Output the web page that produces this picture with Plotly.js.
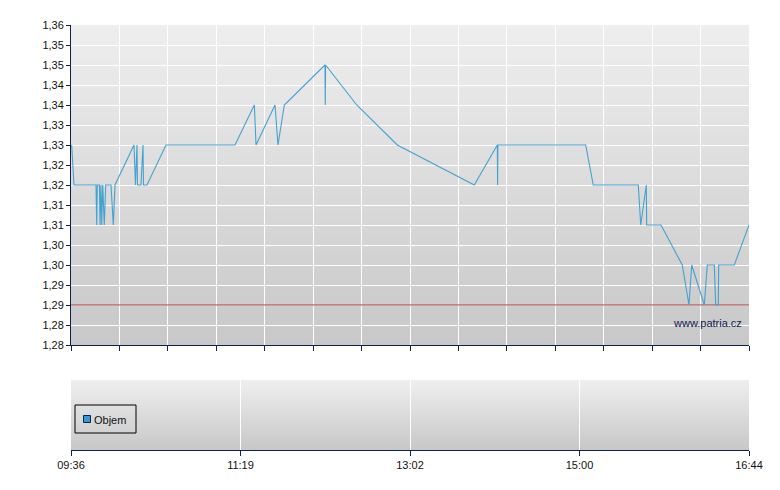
<!DOCTYPE html>
<html>
<head>
<meta charset="utf-8">
<script src="https://cdn.plot.ly/plotly-3.0.1.min.js"></script>
<style>html,body{margin:0;padding:0;background:#fff}#chart{width:780px;height:490px}</style>
</head>
<body>
<div id="chart"></div>
<script>
// session position (0 = open, 100 = close) and price
const pos = [0.1,0.44,3.69,3.79,3.88,4.2,4.28,4.42,4.53,4.68,4.91,5.12,5.90,6.24,6.49,
  9.29,9.51,9.73,9.81,10.32,10.62,10.69,11.21,14.01,24.19,27.04,27.29,30.09,30.53,31.46,
  37.46,37.5,37.55,42.14,48.13,59.48,62.88,62.92,62.96,75.91,77.03,83.67,84.03,84.85,84.91,
  87.02,90.16,91.15,91.55,93.41,93.85,94.88,95.09,95.47,95.53,97.83,100];
const price = [1.33,1.32,1.32,1.31,1.32,1.32,1.31,1.32,1.31,1.32,1.31,1.32,1.32,1.31,1.32,
  1.33,1.32,1.33,1.32,1.32,1.33,1.32,1.32,1.33,1.33,1.34,1.33,1.34,1.33,1.34,
  1.35,1.34,1.35,1.34,1.33,1.32,1.33,1.32,1.33,1.33,1.32,1.32,1.31,1.32,1.31,
  1.31,1.30,1.29,1.30,1.29,1.30,1.30,1.29,1.29,1.30,1.30,1.31];
const prevClose = 1.29;
const volumePos = [50];
const volume = [0];
const volumeName = 'Objem';
const timeTickPos = [0,25,50,75,100];
const timeTickLabels = ['09:36','11:19','13:02','15:00','16:44'];
const priceTickVals = [1.28,1.285,1.29,1.295,1.30,1.305,1.31,1.315,1.32,1.325,1.33,1.335,1.34,1.345,1.35,1.355,1.36];
const priceTickText = ['1,28','1,28','1,29','1,29','1,30','1,30','1,31','1,31','1,32','1,32','1,33','1,33','1,34','1,34','1,35','1,35','1,36'];

const navy = '#0b2152';
const volColor = '#3a9ad0';
const upperGrid = [];
for (let i = 0; i <= 14; i++) upperGrid.push(i * 100 / 14);

// plot area geometry in pixels (for paper-coordinate helpers)
const L = 71, R = 749, T = 25, B = 450;
const px = x => (x - L) / (R - L);
const py = y => (B - y) / (B - T);

// gradient background bands (overlapping to avoid seams)
const shapes = [];
function gradient(y0, y1, n) {
  const h = (y1 - y0) / n;
  for (let i = 0; i < n; i++) {
    const t = i / (n - 1);
    const c = Math.round(238 - t * 38);
    const top = y1 - h * i;
    const bot = Math.max(y0, y1 - h * (i + 1) - h * 0.8);
    shapes.push({type:'rect', xref:'paper', yref:'paper', layer:'below',
      x0:0, x1:1, y0: bot, y1: top,
      fillcolor:`rgb(${c},${c},${c})`, line:{width:0}});
  }
}
const upDom = [py(345), 1];
const loDom = [0, py(380)];
gradient(upDom[0], upDom[1], 60);
gradient(loDom[0], loDom[1], 25);

// compact legend box for the volume series
shapes.push({type:'rect', xref:'paper', yref:'paper', layer:'above',
  x0:px(75), x1:px(136), y0:py(433), y1:py(405), fillcolor:'rgba(0,0,0,0)', line:{color:'#000', width:1}});
shapes.push({type:'rect', xref:'paper', yref:'paper', layer:'above',
  x0:px(83.5), x1:px(90.5), y0:py(422.5), y1:py(415.5), fillcolor:volColor, line:{color:navy, width:1}});

const traces = [
  {x:[0,100], y:[prevClose,prevClose], xaxis:'x', yaxis:'y', mode:'lines',
   line:{color:'#a83a3a', width:1}, showlegend:false, hoverinfo:'skip'},
  {x:pos, y:price, xaxis:'x', yaxis:'y', mode:'lines',
   line:{color:'#44a2d0', width:1.1}, showlegend:false},
  {x:volumePos, y:volume, xaxis:'x2', yaxis:'y2', type:'bar', name:volumeName,
   marker:{color:volColor, line:{color:navy, width:1}}, showlegend:false}
];

const layout = {
  width:780, height:490,
  margin:{l:71, r:31, t:25, b:40},
  paper_bgcolor:'#ffffff', plot_bgcolor:'rgba(0,0,0,0)',
  font:{family:'Liberation Sans, Arial, sans-serif', size:11, color:'#111'},
  showlegend:false,
  xaxis:{domain:[0,1], anchor:'y', range:[0,100], tickvals:upperGrid, ticktext:upperGrid.map(()=>''),
    ticks:'outside', ticklen:5, tickcolor:navy, showgrid:true, gridcolor:'#ffffff', gridwidth:1,
    showline:true, linecolor:navy, linewidth:1, zeroline:false, fixedrange:true},
  yaxis:{domain:upDom, anchor:'x', range:[1.28,1.36], tickvals:priceTickVals, ticktext:priceTickText,
    ticks:'outside', ticklen:4, tickcolor:navy, showgrid:true, gridcolor:'#ffffff', gridwidth:1,
    showline:true, linecolor:navy, linewidth:1, zeroline:false, tickfont:{size:11, color:'#111'}},
  xaxis2:{domain:[0,1], anchor:'y2', range:[0,100], tickvals:timeTickPos, ticktext:timeTickLabels,
    ticks:'outside', ticklen:5, tickcolor:navy, showgrid:true, gridcolor:'#ffffff', gridwidth:1,
    showline:true, linecolor:navy, linewidth:1, zeroline:false, tickfont:{size:11, color:'#111'}},
  yaxis2:{domain:loDom, anchor:'x2', range:[0.05,1], showgrid:false, showticklabels:false, ticks:'',
    showline:false, zeroline:false},
  shapes:shapes,
  annotations:[
    {text:'www.patria.cz', xref:'paper', yref:'paper', x:px(744), y:py(323),
     xanchor:'right', yanchor:'middle', showarrow:false, font:{size:11, color:navy}},
    {text:volumeName, xref:'paper', yref:'paper', x:px(92), y:py(419.5),
     xanchor:'left', yanchor:'middle', showarrow:false, font:{size:11, color:'#111'}}
  ]
};

Plotly.newPlot('chart', traces, layout, {displayModeBar:false, staticPlot:true});
</script>
</body>
</html>
